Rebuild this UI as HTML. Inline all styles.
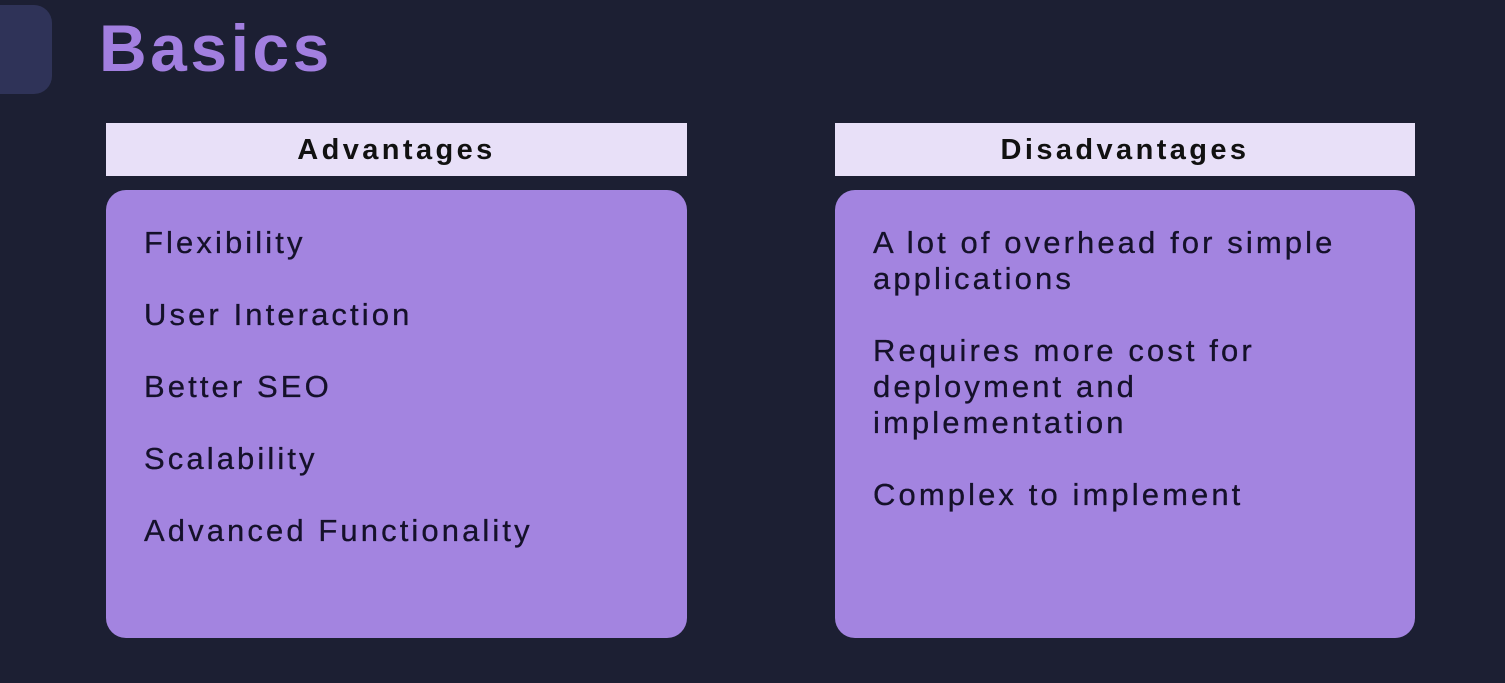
<!DOCTYPE html>
<html><head><style>
body{margin:0;width:1505px;height:683px;background:#1c1f33;font-family:"Liberation Sans",sans-serif;position:relative;overflow:hidden}
.sq{position:absolute;left:-30px;top:5px;width:82px;height:89px;border-radius:18px;background:#2f3358}
.t{position:absolute;left:99px;top:10px;font-size:66px;font-weight:bold;color:#a27fe0;letter-spacing:3.5px}
.h{position:absolute;top:123px;height:53px;background:#e8e0f8;font-size:29px;font-weight:bold;color:#111;text-align:center;line-height:55px;letter-spacing:3.4px}
.c{position:absolute;top:190px;height:448px;background:#a384e0;border-radius:20px;font-size:31px;color:#15112a;letter-spacing:3.1px;-webkit-text-stroke:0.3px #15112a}
.c div{position:absolute;left:38px;line-height:36px}
</style></head><body>
<div class="sq"></div>
<div class="t">Basics</div>
<div class="h" style="left:106px;width:581px">Advantages</div>
<div class="h" style="left:835px;width:580px">Disadvantages</div>
<div class="c" style="left:106px;width:581px">
<div style="top:35px">Flexibility</div>
<div style="top:107px">User Interaction</div>
<div style="top:179px">Better SEO</div>
<div style="top:251px">Scalability</div>
<div style="top:323px">Advanced Functionality</div>
</div>
<div class="c" style="left:835px;width:580px">
<div style="top:35px">A lot of overhead for simple<br>applications</div>
<div style="top:143px">Requires more cost for<br>deployment and<br>implementation</div>
<div style="top:287px">Complex to implement</div>
</div>
</body></html>
